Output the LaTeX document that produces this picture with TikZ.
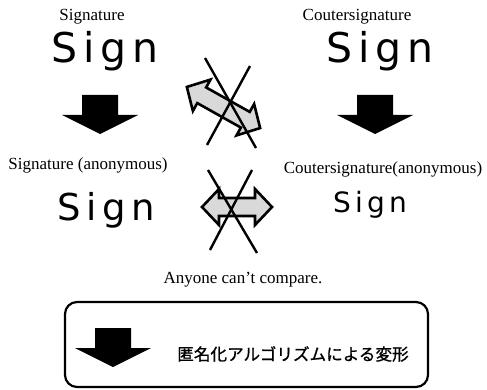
\documentclass[tikz,border=0pt]{standalone}
\usepackage{fontspec}
\setmainfont{Liberation Serif}
\newfontfamily\handfont[LetterSpace=15]{DejaVu Sans}
\newfontfamily\jpfont[FakeBold=1]{Noto Sans CJK JP}
\usetikzlibrary{positioning}
\tikzset{
  pics/downblock/.style={code={
    \fill (-18,0) -- (18,0) -- (18,-20) -- (38,-20) -- (0,-39) -- (-38,-20) -- (-18,-20) -- cycle;}},
  pics/swapblock/.style={code={
    \filldraw[fill=gray!30,draw=black,line width=2.6pt,line join=miter]
      (-#1,0) -- (-#1+17,18) -- (-#1+17,9) -- (#1-17,9) -- (#1-17,18) -- (#1,0)
      -- (#1-17,-18) -- (#1-17,-9) -- (-#1+17,-9) -- (-#1+17,-18) -- cycle;}}
}
\begin{document}
\begin{tikzpicture}[x=1pt,y=1pt,
  heading/.style={font=\fontsize{17}{20}\selectfont,inner sep=0pt,anchor=base},
  hand/.style={font=\handfont\fontsize{#1}{#1}\selectfont,inner sep=0pt,anchor=base},
  hand/.default=41,
  veto/.style={line width=2.4pt},
  panel/.style={draw,line width=2.2pt,rounded corners=12pt}]
  \useasboundingbox (0,0) rectangle (487,389);
  % originals
  \node[heading] (sig)  at (92,368)  {Signature};
  \node[heading] (csig) at (357,368) {Coutersignature};
  \node[hand] (signA) at (105,326) {Sign};
  \node[hand] (signB) at (380,326) {Sign};
  \pic at (100,294) {downblock};
  \pic at (375,294) {downblock};
  \pic[rotate=-29.3] at (223.5,281.5) {swapblock=42};
  \draw[veto] (205,331) -- (256,241);
  \draw[veto] (250,323) -- (207,244);
  % anonymous
  \node[heading] (asig)  at (88,220)  {Signature (anonymous)};
  \node[heading] (acsig) at (383,216) {Coutersignature(anonymous)};
  \node[hand=37] (signC) at (106,169) {Sign};
  \node[hand=28] (signD) at (370,177) {Sign};
  \pic at (237,182) {swapblock=35};
  \draw[veto] (208,219) -- (257,136);
  \draw[veto] (252,219) -- (210,139);
  \node[heading] (note) at (243,106) {Anyone can't compare.};
  % legend
  \draw[panel] (65,87) rectangle (428,2);
  \pic at (113,61) {downblock};
  \node[font=\jpfont\fontsize{16.6}{18}\selectfont,inner sep=0pt] (algo) at (293,35) {匿名化アルゴリズムによる変形};
\end{tikzpicture}
\end{document}
